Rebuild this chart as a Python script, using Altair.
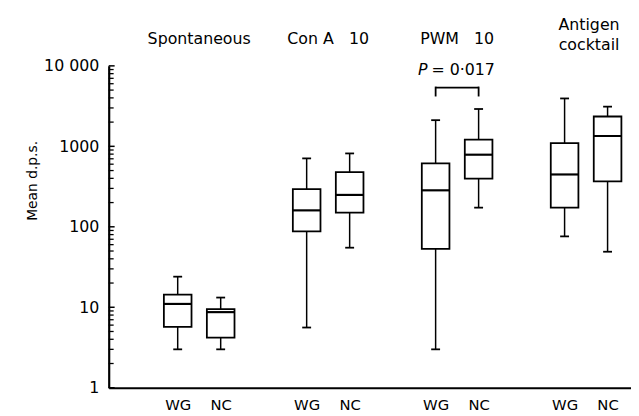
import altair as alt
import pandas as pd

groups = ["Spontaneous", "Con A\u00a0\u00a0\u00a010", "PWM\u00a0\u00a0\u00a010", "Antigen cocktail"]
samples = ["WG", "NC"]
whisker_low = [3, 3, 5.6, 55, 3, 173, 76, 49]
q1 = [5.7, 4.2, 88, 150, 53, 396, 173, 367]
median = [11, 8.7, 160, 249, 284, 787, 447, 1345]
q3 = [14.4, 9.5, 293, 477, 615, 1211, 1094, 2349]
whisker_high = [24, 13.2, 708, 816, 2114, 2910, 3936, 3113]
y_tick_labels = [1, 10, 100, 1000, 10000]
p_label = "= 0·017"

rows = []
i = 0
for gi, g in enumerate(groups):
    for si, s in enumerate(samples):
        rows.append(dict(group=g, sample=s, pos=3 * gi + si,
                         lo=whisker_low[i], q1=q1[i], med=median[i],
                         q3=q3[i], hi=whisker_high[i]))
        i += 1
df = pd.DataFrame(rows)

ticks = []
for d in y_tick_labels:
    ticks.append(dict(v=d, major=1))
    if d < 10000:
        for m in range(2, 10):
            ticks.append(dict(v=d * m, major=0))
tick_df = pd.DataFrame(ticks)

title_df = pd.DataFrame([
    dict(pos=0.5, text=groups[0]),
    dict(pos=3.5, text=groups[1]),
    dict(pos=6.5, text=groups[2]),
])
ant_df = pd.DataFrame([dict(pos=9.5)])
p_df = pd.DataFrame([dict(a=6, b=7, c=6.5)])

xscale = alt.Scale(domain=[-1.49, 10.43], nice=False, zero=False)
yscale = alt.Scale(type="log", domain=[1, 10000], nice=False)

xaxis = alt.Axis(values=[0, 1, 3, 4, 6, 7, 9, 10],
                 labelExpr="datum.value % 3 == 0 ? 'WG' : 'NC'",
                 ticks=False, grid=False, title=None, domainWidth=2.2,
                 domainColor="black", labelFontSize=15, labelPadding=10,
                 labelColor="black")
yaxis = alt.Axis(values=y_tick_labels,
                 labelExpr="datum.value == 10000 ? '10 000' : '' + datum.value",
                 ticks=False, grid=False, title="Mean d.p.s.",
                 domainWidth=2.2, domainColor="black", labelFontSize=16,
                 labelPadding=10, labelColor="black",
                 titleFontSize=14, titleFontWeight="normal", titleColor="black",
                 titleX=-77, titleY=116, titleAlign="center",
                 titleBaseline="middle", titleAngle=270)


def X(f):
    return alt.X(f, scale=xscale, axis=xaxis)


def Y(f):
    return alt.Y(f, scale=yscale, axis=yaxis)


base = alt.Chart(df)

whisk = base.mark_rule(color="black", strokeWidth=1.5).encode(
    x=X("pos:Q"), y=Y("lo:Q"), y2="hi:Q")
caps_lo = base.mark_tick(color="black", opacity=1, size=9, thickness=1.8,
                         orient="horizontal").encode(x=X("pos:Q"), y=Y("lo:Q"))
caps_hi = base.mark_tick(color="black", opacity=1, size=9, thickness=1.8,
                         orient="horizontal").encode(x=X("pos:Q"), y=Y("hi:Q"))
box = base.mark_bar(size=28, fill="white", stroke="black", strokeWidth=1.8, opacity=1).encode(
    x=X("pos:Q"), y=Y("q1:Q"), y2="q3:Q")
med = base.mark_tick(color="black", opacity=1, size=28, thickness=2.2,
                     orient="horizontal").encode(x=X("pos:Q"), y=Y("med:Q"))

ytick_major = alt.Chart(tick_df).transform_filter("datum.major == 1").mark_rule(
    color="black", strokeWidth=1.5).encode(
    y=Y("v:Q"), x=alt.value(0), x2=alt.value(6))
ytick_minor = alt.Chart(tick_df).transform_filter("datum.major == 0").mark_rule(
    color="black", strokeWidth=1.3).encode(
    y=Y("v:Q"), x=alt.value(0), x2=alt.value(5))

titles = alt.Chart(title_df).mark_text(fontSize=16, color="black", baseline="middle").encode(
    x=X("pos:Q"), y=alt.value(-27), text="text:N")
ant1 = alt.Chart(ant_df).mark_text(fontSize=16, color="black", baseline="middle", dx=3).encode(
    x=X("pos:Q"), y=alt.value(-41), text=alt.value("Antigen"))
ant2 = alt.Chart(ant_df).mark_text(fontSize=16, color="black", baseline="middle", dx=3).encode(
    x=X("pos:Q"), y=alt.value(-21), text=alt.value("cocktail"))

bracket_h = alt.Chart(p_df).mark_rule(color="black", strokeWidth=1.8).encode(
    x=X("a:Q"), x2="b:Q", y=alt.value(22))
bracket_l = alt.Chart(p_df).mark_rule(color="black", strokeWidth=1.8).encode(
    x=X("a:Q"), y=alt.value(21), y2=alt.value(31))
bracket_r = alt.Chart(p_df).mark_rule(color="black", strokeWidth=1.8).encode(
    x=X("b:Q"), y=alt.value(21), y2=alt.value(31))
p_italic = alt.Chart(p_df).mark_text(fontSize=16, fontStyle="italic", color="black",
                                      align="right", baseline="middle", dx=-30).encode(
    x=X("c:Q"), y=alt.value(4), text=alt.value("P"))
p_text = alt.Chart(p_df).mark_text(fontSize=16, color="black",
                                    align="left", baseline="middle", dx=-26).encode(
    x=X("c:Q"), y=alt.value(4), text=alt.value(p_label))

chart = alt.layer(
    whisk, caps_lo, caps_hi, box, med, ytick_major, ytick_minor,
    titles, ant1, ant2, bracket_h, bracket_l, bracket_r, p_italic, p_text
).properties(
    width=529, height=326,
    padding={"left": 102, "top": 56, "right": 0, "bottom": 24},
    autosize=alt.AutoSizeParams(type="none"),
).configure(font="DejaVu Sans").configure_view(stroke=None)

chart.save("out.html", embed_options={"renderer": "svg", "actions": False})
